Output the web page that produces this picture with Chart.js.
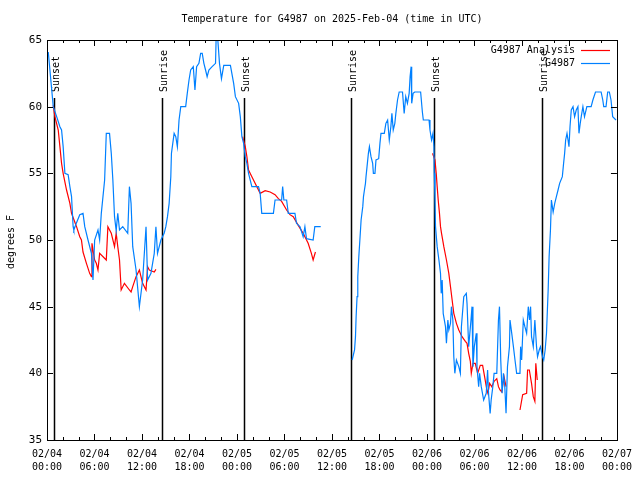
<!DOCTYPE html>
<html lang="en">
<head>
  <meta charset="UTF-8">
  <title>Temperature for G4987</title>
  <script src="https://cdn.jsdelivr.net/npm/chart.js"></script>
  <style>
    html, body { margin: 0; padding: 0; background: #fff; }
    canvas { display: block; }
  </style>
</head>
<body>
  <canvas id="grafico" width="640" height="480"></canvas>

  <script>
    // hours since 02/04 00:00 UTC, null breaks the line
    const blueHours = [
      0.16, 0.79, 1.22, 1.63, 1.84, 2.04, 2.26, 2.67, 2.89, 3.10, 3.30, 3.39, 3.73, 4.14, 4.55, 4.77,
      5.18, 5.61, 5.81, 6.02, 6.44, 6.65, 6.86, 7.28, 7.49, 7.90, 8.12, 8.32, 8.53, 8.74, 8.94, 9.16,
      9.57, 10.20, 10.41, 10.62, 10.83, 11.25, 11.67, 12.08, 12.51, 12.71, 13.13, 13.55, 13.76, 13.96,
      14.39, 14.80, 15.01, 15.22, 15.43, 15.64, 15.72, 16.06, 16.27, 16.47, 16.68, 16.90, 17.52, 17.72,
      17.94, 18.15, 18.48, 18.69, 18.90, 19.19, 19.41, 19.61, 19.82, 20.03, 20.23, 20.45, 20.86, 21.29,
      21.36, 21.58, 21.79, 22.04, 22.33, 23.17, 23.58, 23.80, 24.21, 24.42, 24.62, 24.84, 25.05, 25.25,
      25.46, 25.88, 26.72, 26.93, 27.13, 28.60, 28.81, 29.64, 29.77, 29.92, 30.27, 30.48, 31.32, 31.52,
      31.95, 32.36, 32.58, 32.78, 33.62, 33.83, 34.58,
      36.5,
      38.55, 38.85, 38.97, 39.05, 39.17, 39.26, 39.39, 39.55, 39.68, 39.89, 39.98, 40.10, 40.23, 40.30,
      40.43, 40.60, 40.73, 40.93, 41.14, 41.23, 41.43, 41.56, 41.90, 42.06, 42.19, 42.61, 42.81, 43.03,
      43.24, 43.44, 43.57, 43.74, 43.94, 44.07, 44.28, 44.49, 44.91, 45.12, 45.32, 45.53, 45.75, 45.87,
      46.00, 46.07, 46.25, 46.45, 47.20, 47.42, 47.54, 48.26, 48.38, 48.58, 48.76, 48.88, 48.92, 49.01,
      49.08, 49.29, 49.51, 49.71, 49.80, 49.92, 50.05, 50.34, 50.46, 50.64, 50.76, 50.97, 51.09, 51.27,
      51.39, 51.52, 51.72, 52.02, 52.22, 52.35, 52.65, 52.97, 53.06, 53.27, 53.56, 53.69, 53.81, 53.98,
      54.23, 54.32, 54.53, 54.65, 54.86, 55.16, 55.49, 55.66, 55.78, 55.98, 56.11, 56.32, 56.48, 56.82,
      57.03, 57.16, 57.32, 57.49, 57.66, 57.83, 57.99, 58.17, 58.42, 58.49, 58.71, 58.92, 59.12, 59.33,
      59.75, 59.83, 59.96, 60.17, 60.37, 60.59, 60.80, 60.96, 61.09, 61.21, 61.43, 61.63, 61.84, 61.97,
      62.18, 62.34, 62.59, 62.75, 62.93, 63.10, 63.31, 63.43, 63.60, 63.72, 63.94, 64.14, 64.35, 64.56,
      64.76, 65.10, 65.26, 65.39, 65.52, 65.69, 65.82, 65.94, 66.07, 66.23, 66.45, 66.65, 66.86, 67.07,
      67.20, 67.36, 67.49, 67.70, 67.90, 68.20, 68.74, 68.96, 69.29, 70.00, 70.21, 70.33, 70.62, 70.83,
      71.04, 71.25, 71.46, 71.88
    ];
    const blueTemps = [
      64.1, 60.0, 59.25, 58.5, 58.25, 57.0, 55.0, 54.9, 54.0, 53.25, 51.0, 50.75, 51.3, 51.9, 52.0, 51.0,
      50.0, 49.0, 47.0, 50.0, 50.75, 50.0, 52.0, 54.5, 58.0, 58.0, 56.5, 54.5, 51.75, 50.7, 52.0, 50.75,
      51.0, 50.5, 54.0, 52.75, 49.5, 47.75, 45.0, 47.0, 51.0, 47.0, 47.5, 49.0, 51.0, 49.0,
      50.0, 50.5, 51.0, 51.75, 52.75, 54.75, 56.5, 58.0, 57.75, 57.0, 59.0, 60.0, 60.0, 61.0,
      62.0, 62.75, 63.0, 61.25, 63.0, 63.25, 64.0, 64.0, 63.25, 62.75, 62.25, 62.75, 63.0, 63.25,
      65.0, 65.0, 63.25, 62.1, 63.1, 63.1, 61.75, 60.75, 60.25, 59.25, 57.75, 57.25, 56.25, 55.75,
      55.0, 54.0, 54.0, 53.5, 52.0, 52.0, 53.0, 53.0, 54.0, 53.0, 53.0, 52.0, 52.0, 51.25,
      51.0, 50.25, 51.0, 50.1, 50.0, 51.0, 51.0,
      null,
      41.0, 41.75, 42.75, 44.25, 45.75, 47.25, 48.75, 50.25, 51.5, 52.5, 53.25, 53.75, 54.25, 54.75,
      55.5, 56.5, 57.0, 56.25, 55.75, 55.0, 55.0, 56.0, 56.1, 57.25, 58.0, 58.0, 58.75, 59.0,
      57.5, 58.5, 59.5, 58.25, 58.75, 59.5, 60.5, 61.1, 61.1, 59.5, 60.75, 60.25, 61.0, 62.25,
      63.0, 60.25, 61.0, 61.1, 61.1, 59.6, 59.0, 59.0, 58.25, 57.5, 58.0, 57.0, 55.0, 53.25,
      51.0, 49.5, 48.5, 47.5, 46.0, 47.0, 44.5, 43.5, 42.25, 44.0, 43.25, 43.75, 45.0, 44.0,
      41.25, 40.0, 41.0, 40.5, 40.0, 43.5, 45.75, 46.0, 45.25, 42.0, 44.0, 45.0, 40.5, 42.0,
      43.0, 40.5, 39.0, 40.0, 39.0, 38.0, 38.5, 40.25, 38.5, 37.0, 38.0, 39.0, 40.0, 40.0,
      44.0, 45.0, 41.0, 38.5, 40.0, 39.0, 37.0, 40.5, 42.0, 44.0, 43.0, 42.0, 41.0, 40.0,
      40.0, 42.0, 41.0, 44.0, 43.5, 43.0, 45.0, 44.0, 45.0, 42.75, 42.0, 44.0, 42.0, 41.25,
      41.75, 42.0, 41.25, 41.0, 41.75, 43.0, 46.25, 48.75, 50.75, 53.0, 52.1, 52.75, 53.25, 53.75,
      54.25, 54.75, 55.75, 56.5, 57.5, 58.0, 57.5, 57.0, 58.5, 59.75, 60.0, 59.25, 59.75, 60.0,
      58.0, 58.75, 59.25, 60.0, 59.25, 60.0, 60.0, 60.5, 61.1, 61.1, 60.5, 60.0, 60.0, 61.1,
      61.1, 60.5, 59.25, 59.0
    ];

    const redHours = [
      0.79, 1.00, 1.42, 1.63, 1.84, 2.04, 2.47, 2.89, 3.10, 3.73, 4.14, 4.35, 4.55, 4.98, 5.39, 5.61,
      5.68, 6.02, 6.23, 6.44, 6.65, 7.49, 7.69, 8.12, 8.53, 8.74, 8.94, 9.16, 9.37, 9.78, 10.41, 10.62,
      10.83, 11.25, 11.67, 12.08, 12.51, 12.71, 12.92, 13.55, 13.76,
      19.0,
      24.71, 25.05, 25.25, 25.46, 25.88, 26.51, 26.93, 27.56, 28.19, 28.81, 29.23, 29.64, 30.27, 30.69,
      31.11, 31.74, 32.36, 32.99, 33.40, 33.62, 33.91,
      41.0,
      48.70, 49.01, 49.17, 49.29, 49.42, 49.58, 49.71, 49.84, 50.13, 50.46, 50.76, 50.97, 51.18, 51.39,
      51.72, 52.02, 52.43, 52.85, 53.06, 53.27, 53.48, 53.60, 53.81, 54.10, 54.40, 54.73, 55.03, 55.28,
      55.57, 55.70, 55.91, 56.19, 56.48, 56.82, 57.03, 57.23, 57.45, 57.74, 57.99,
      59.0,
      59.75, 60.09, 60.59, 60.71, 60.93, 61.21, 61.43, 61.63, 61.75, 61.93
    ];
    const redTemps = [
      60.1, 59.25, 58.25, 57.0, 55.75, 55.0, 53.75, 52.75, 52.0, 51.0, 50.25, 50.0, 49.1, 48.25, 47.5, 47.25,
      49.75, 48.5, 48.25, 47.75, 49.0, 48.5, 51.0, 50.5, 49.5, 50.5, 49.5, 48.5, 46.25, 46.75, 46.25, 46.1,
      46.5, 47.25, 47.75, 46.75, 46.25, 48.0, 47.75, 47.6, 47.8,
      null,
      57.75, 57.0, 56.25, 55.25, 54.75, 54.0, 53.5, 53.7, 53.6, 53.4, 53.1, 52.9, 52.25, 51.9,
      51.75, 51.1, 50.5, 49.75, 49.0, 48.5, 49.1,
      null,
      56.5, 56.0, 55.0, 54.0, 53.0, 52.0, 51.0, 50.5, 49.5, 48.5, 47.5, 46.5, 45.5, 44.5,
      43.75, 43.25, 42.75, 42.4, 42.25, 41.5, 40.9, 40.0, 40.75, 40.75, 40.0, 40.6, 40.6, 39.75,
      38.75, 38.5, 39.25, 39.0, 39.4, 39.6, 39.0, 38.75, 38.6, 39.75, 39.0,
      null,
      37.25, 38.4, 38.5, 40.25, 40.25, 39.25, 38.25, 37.9, 40.75, 39.5
    ];

    // sunrise / sunset markers (hours since 02/04 00:00)
    const sunHours = [0.88, 14.47, 24.84, 38.45, 48.9, 62.47];
    const sunLabels = ['Sunset', 'Sunrise', 'Sunset', 'Sunrise', 'Sunset', 'Sunrise'];

    const seriesNames = ['G4987 Analysis', 'G4987'];
    const seriesColors = ['#ff0000', '#0080ff'];
    const titulo = 'Temperature for G4987 on 2025-Feb-04 (time in UTC)';

    const fonte = '10px "DejaVu Sans Mono"';

    function pontos(hours, temps) {
      return hours.map((h, i) => ({ x: h, y: temps[i] }));
    }

    // gnuplot style: frame, inward ticks, title, labels, legend
    const extras = {
      id: 'extras',
      beforeDatasetsDraw(chart) {
        const ctx = chart.ctx;
        const a = chart.chartArea;
        const x = chart.scales.x;
        ctx.save();
        ctx.strokeStyle = '#000';
        ctx.lineWidth = 1.5;
        ctx.fillStyle = '#000';
        ctx.font = fonte;
        sunHours.forEach((h, i) => {
          const px = Math.round(x.getPixelForValue(h)) + 0.5;
          ctx.beginPath();
          ctx.moveTo(px, 98);
          ctx.lineTo(px, a.bottom);
          ctx.stroke();
          ctx.save();
          ctx.translate(px + 2, 92);
          ctx.rotate(-Math.PI / 2);
          ctx.textAlign = 'left';
          ctx.textBaseline = 'middle';
          ctx.fillText(sunLabels[i], 0, 0);
          ctx.restore();
        });
        ctx.restore();
      },
      afterDraw(chart) {
        const ctx = chart.ctx;
        const a = chart.chartArea;
        const x = chart.scales.x;
        const y = chart.scales.y;
        ctx.save();
        ctx.strokeStyle = '#000';
        ctx.lineWidth = 1;
        ctx.strokeRect(Math.round(a.left) + 0.5, Math.round(a.top) + 0.5,
          Math.round(a.right - a.left), Math.round(a.bottom - a.top));

        ctx.beginPath();
        for (let h = 0; h <= 72; h += 2) {
          const px = Math.round(x.getPixelForValue(h)) + 0.5;
          const len = h % 6 === 0 ? 6 : 3;
          ctx.moveTo(px, a.bottom); ctx.lineTo(px, a.bottom - len);
          ctx.moveTo(px, a.top); ctx.lineTo(px, a.top + len);
        }
        for (let v = 35; v <= 65; v += 5) {
          const py = Math.round(y.getPixelForValue(v)) + 0.5;
          ctx.moveTo(a.left, py); ctx.lineTo(a.left + 6, py);
          ctx.moveTo(a.right, py); ctx.lineTo(a.right - 6, py);
        }
        ctx.stroke();

        ctx.fillStyle = '#000';
        ctx.font = fonte;
        ctx.textAlign = 'center';
        ctx.textBaseline = 'middle';
        ctx.fillText(titulo, (a.left + a.right) / 2, 19);

        ctx.save();
        ctx.translate(11, 242);
        ctx.rotate(-Math.PI / 2);
        ctx.fillText('degrees F', 0, 0);
        ctx.restore();

        // legend
        ctx.textAlign = 'right';
        [50, 63].forEach((ly, i) => {
          ctx.fillStyle = '#000';
          ctx.fillText(seriesNames[i], 575, ly);
          ctx.strokeStyle = seriesColors[i];
          ctx.lineWidth = 1.2;
          ctx.beginPath();
          ctx.moveTo(581, ly + 0.5);
          ctx.lineTo(610, ly + 0.5);
          ctx.stroke();
        });
        ctx.restore();
      }
    };

    const config = {
      type: 'line',
      data: {
        datasets: [
          {
            label: seriesNames[1],
            data: pontos(blueHours, blueTemps),
            borderColor: seriesColors[1],
            borderWidth: 1.2,
            order: 0
          },
          {
            label: seriesNames[0],
            data: pontos(redHours, redTemps),
            borderColor: seriesColors[0],
            borderWidth: 1.2,
            order: 1
          }
        ]
      },
      options: {
        responsive: false,
        animation: false,
        devicePixelRatio: 1,
        spanGaps: false,
        elements: {
          point: { radius: 0 },
          line: { tension: 0, fill: false }
        },
        layout: { padding: { left: 0, right: 19, top: 40, bottom: 0 } },
        plugins: {
          legend: { display: false },
          tooltip: { enabled: false },
          title: { display: false }
        },
        scales: {
          x: {
            type: 'linear',
            min: 0,
            max: 72,
            grid: { display: false, drawTicks: false },
            border: { display: false },
            afterFit(scale) { scale.height = 40; },
            ticks: {
              stepSize: 6,
              padding: 8,
              maxRotation: 0,
              autoSkip: false,
              color: '#000',
              font: { family: 'DejaVu Sans Mono', size: 10, lineHeight: 1.3 },
              callback(v) {
                const dia = 4 + Math.floor(v / 24);
                const hora = v % 24;
                return ['02/' + String(dia).padStart(2, '0'), String(hora).padStart(2, '0') + ':00'];
              }
            }
          },
          y: {
            min: 35,
            max: 65,
            grid: { display: false, drawTicks: false },
            border: { display: false },
            afterFit(scale) { scale.width = 47; },
            ticks: {
              stepSize: 5,
              padding: 5,
              color: '#000',
              font: { family: 'DejaVu Sans Mono', size: 11 }
            }
          }
        }
      },
      plugins: [extras]
    };

    const ctx = document.getElementById('grafico').getContext('2d');
    const grafico = new Chart(ctx, config);
  </script>
</body>
</html>
